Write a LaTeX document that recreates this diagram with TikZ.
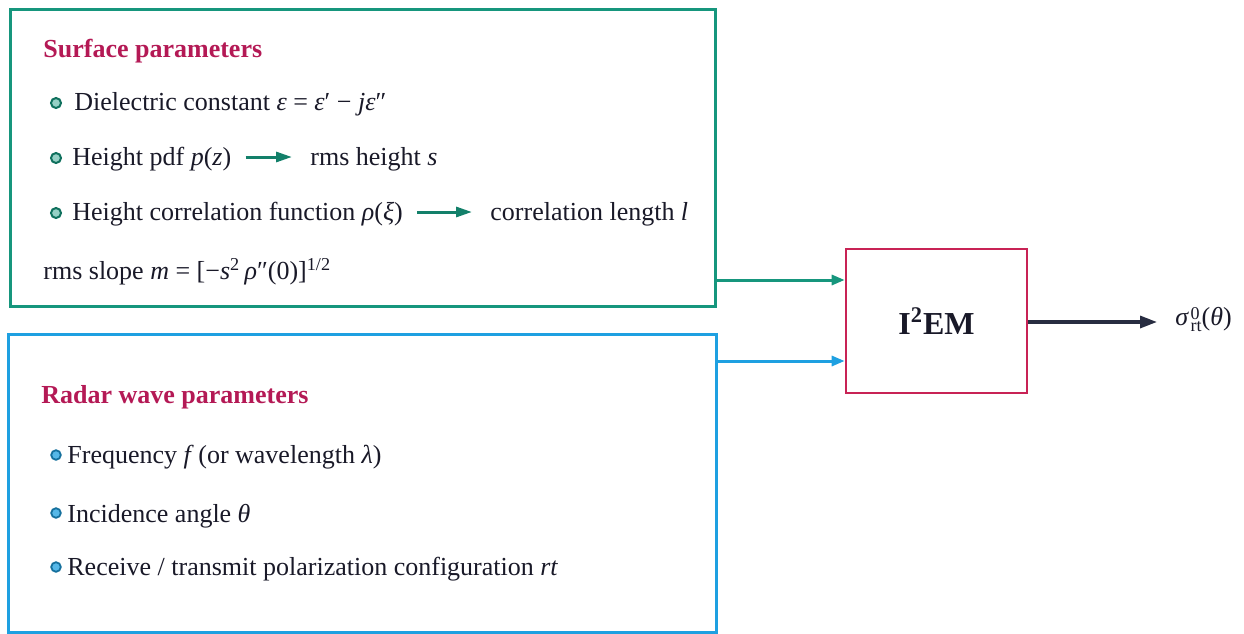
\documentclass[tikz,border=0pt]{standalone}
\usepackage{fontspec}
\setmainfont{Liberation Serif}
\usetikzlibrary{arrows.meta}
\definecolor{teal1}{RGB}{22,150,125}
\definecolor{blue1}{RGB}{30,160,225}
\definecolor{crim}{RGB}{180,25,85}
\definecolor{boxred}{RGB}{200,35,85}
\definecolor{navy}{RGB}{40,45,65}
\definecolor{txt}{RGB}{25,25,40}
\tikzset{
  pbox/.style={draw, line width=1.3pt, minimum width=#1, anchor=north west, inner sep=0pt},
  head/.style={anchor=base west, inner sep=0pt, text=crim, font=\fontsize{13}{15}\selectfont\bfseries},
  item/.style={anchor=base west, inner sep=0pt, text=txt, font=\fontsize{13}{15}\selectfont},
  gbullet/.style={circle, draw=teal1!75!black, fill=teal1!45, line width=1pt, minimum size=5pt, inner sep=0pt},
  bbullet/.style={circle, draw=blue1!70!black, fill=blue1!75, line width=0.9pt, minimum size=4.8pt, inner sep=0pt},
  inarrow/.style={teal1!85!black, line width=1.5pt, -{Triangle[length=8pt,width=5pt]}, shorten <=7pt, shorten >=9pt},
  conn/.style={line width=1.5pt, -{Triangle[length=6.5pt,width=5pt]}},
}
\begin{document}
\begin{tikzpicture}[x=0.5pt,y=-0.5pt]
\useasboundingbox (0,0) rectangle (1244,633);
% boxes
\node[pbox, draw=teal1, minimum width=352.5pt, minimum height=148.5pt] (green) at (9,8) {};
\node[pbox, draw=blue1, minimum width=354pt, minimum height=149pt] (blue) at (7,333) {};
\node[draw=boxred, line width=1.3pt, fill=white, minimum width=90.5pt, minimum height=72pt, inner sep=0pt,
      font=\fontsize{16}{18}\selectfont\bfseries, text=txt] (iem) at (936.5,321) {I\textsuperscript{2}EM};
% surface parameters
\node[head] (sh) at (43,57) {Surface parameters};
\node[gbullet] (b1) at (56,103) {};
\node[item] (t1) at (74,110) {Dielectric constant \textit{ε} = \textit{ε}′ − \textit{jε}″};
\node[gbullet] (b2) at (56,158) {};
\node[item] (t2) at (72,165) {Height pdf \textit{p}(\textit{z})};
\node[item] (t2b) at (310,165) {rms height \textit{s}};
\draw[inarrow] (t2.east |- 0,157) -- (t2b.west |- 0,157);
\node[gbullet] (b3) at (56,213) {};
\node[item] (t3) at (72,220) {Height correlation function \textit{ρ}(\textit{ξ})};
\node[item] (t3b) at (490,220) {correlation length \textit{l}};
\draw[inarrow] (t3.east |- 0,212) -- (t3b.west |- 0,212);
\node[item] (t4) at (43,279) {rms slope \textit{m} = [−\textit{s}\textsuperscript{2}\,\textit{ρ}″(0)]\textsuperscript{1/2}};
% radar parameters
\node[head] (rh) at (41,403) {Radar wave parameters};
\node[bbullet] (c1) at (56,455) {};
\node[item] (r1) at (67,463) {Frequency \textit{f}\kern-1pt\ (or wavelength \textit{λ})};
\node[bbullet] (c2) at (56,513) {};
\node[item] (r2) at (67,522) {Incidence angle \textit{θ}};
\node[bbullet] (c3) at (56,567) {};
\node[item] (r3) at (67,575) {Receive / transmit polarization configuration \textit{rt}};
% output
\node[anchor=west, inner sep=0pt, text=txt, font=\fontsize{13}{15}\selectfont] (out) at (1175,322)
  {\textit{σ}\kern0.8pt\raisebox{-0.5ex}{\fontsize{9}{7.5}\selectfont\begin{tabular}[b]{@{}l@{}}0\\[-1.5pt]rt\end{tabular}}(\textit{θ})};
% connectors
\draw[conn, teal1] (green.east |- 0,280) -- (iem.west |- 0,280);
\draw[conn, blue1] (blue.east |- 0,361) -- (iem.west |- 0,361);
\draw[line width=1.6pt, navy, -{Triangle[length=8.5pt,width=6pt]}, shorten >=9pt] (iem.east |- 0,322) -- (out.west |- 0,322);
\end{tikzpicture}
\end{document}
